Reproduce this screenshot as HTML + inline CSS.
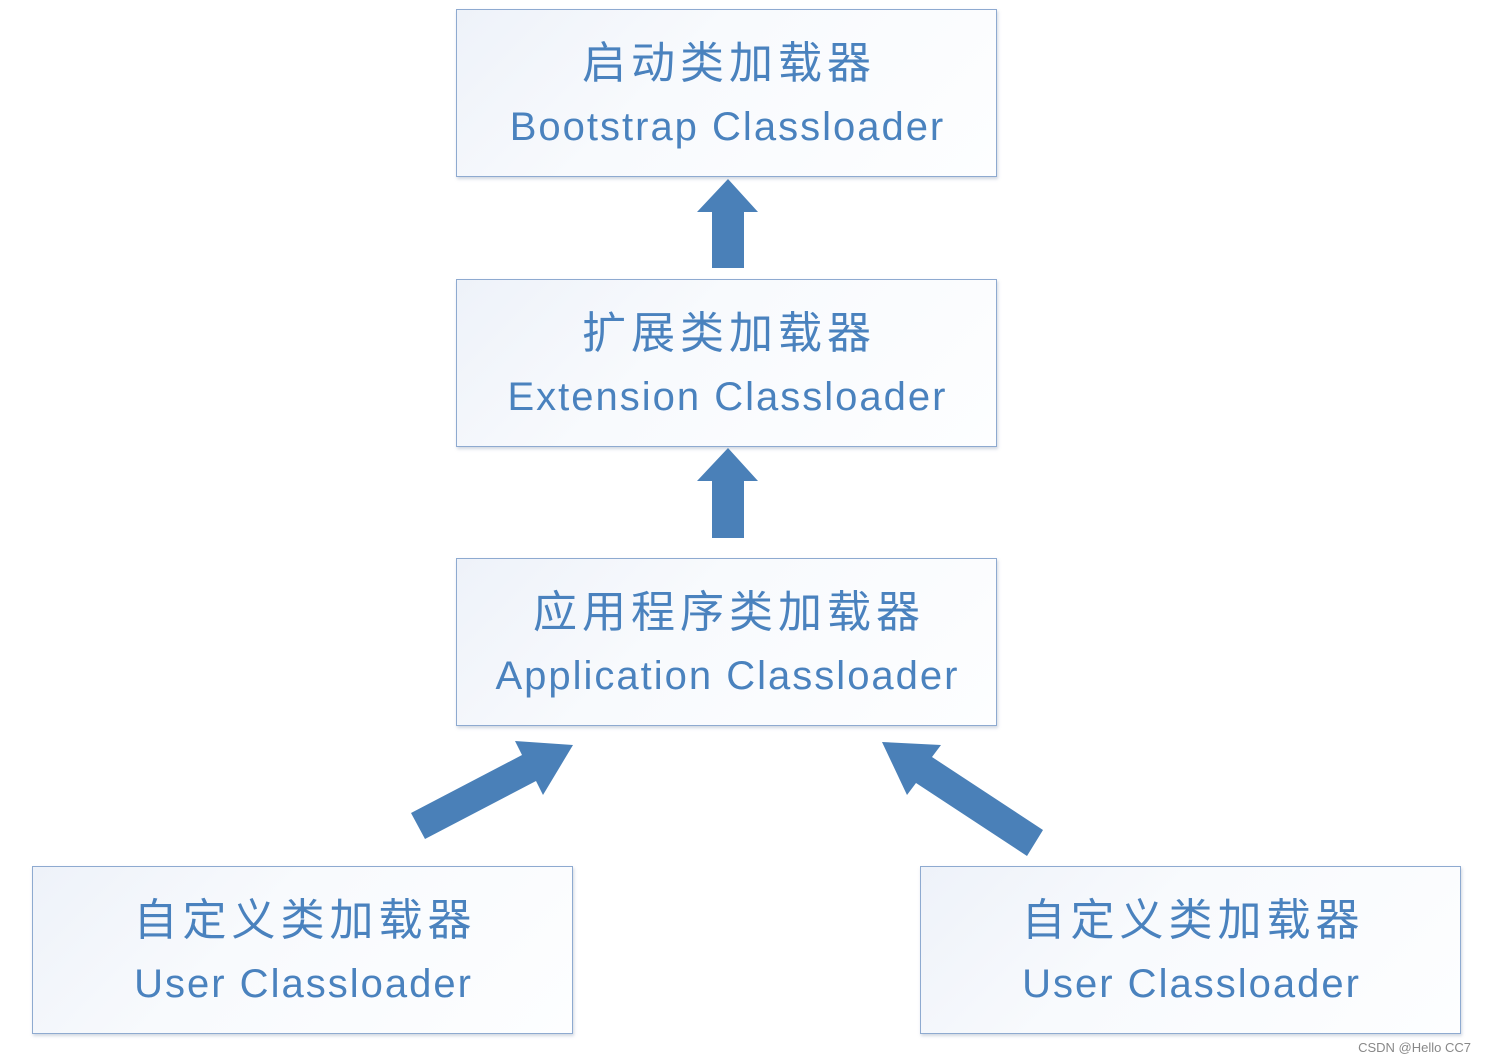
<!DOCTYPE html>
<html><head><meta charset="utf-8"><style>
body{margin:0;background:#fff;width:1485px;height:1061px;position:relative;overflow:hidden;font-family:"Liberation Sans","Noto Sans CJK SC",sans-serif}
.b{position:absolute;width:539px;height:166px;border:1.5px solid #8eaad0;background:linear-gradient(135deg,#eef2f9 0%,#f8fafd 40%,#fdfeff 100%);box-shadow:1px 2px 3px rgba(120,140,170,.35);color:#4a82be;text-align:center}
.c{position:absolute;left:0;right:0;top:28px;font-size:44px;line-height:52px;letter-spacing:5px;text-indent:5px}
.e{position:absolute;left:0;right:0;top:94px;font-size:40px;line-height:46px;letter-spacing:2px;text-indent:2px}
.w{position:absolute;right:14px;bottom:6px;font-size:13px;color:#888}
</style></head><body>
<div class="b" style="left:456px;top:9px"><div class="c">启动类加载器</div><div class="e">Bootstrap Classloader</div></div>
<div class="b" style="left:456px;top:279px"><div class="c">扩展类加载器</div><div class="e">Extension Classloader</div></div>
<div class="b" style="left:456px;top:558px"><div class="c">应用程序类加载器</div><div class="e">Application Classloader</div></div>
<div class="b" style="left:32px;top:866px"><div class="c">自定义类加载器</div><div class="e">User Classloader</div></div>
<div class="b" style="left:920px;top:866px"><div class="c">自定义类加载器</div><div class="e">User Classloader</div></div>
<svg width="1485" height="1061" style="position:absolute;left:0;top:0">
<g fill="#4a80b8">
<polygon points="712,268 744,268 744,212 758,212 728,179 697,212 712,212"/>
<polygon points="712,538 744,538 744,481 758,481 728,448 697,481 712,481"/>
<polygon points="411,813 522,755 515,741 573,745 543,795 536,781 425,839"/>
<polygon points="1043,830 932,757 941,745 882,742 907,795 916,783 1027,856"/>
</g></svg>
<div class="w">CSDN @Hello CC7</div>
</body></html>
